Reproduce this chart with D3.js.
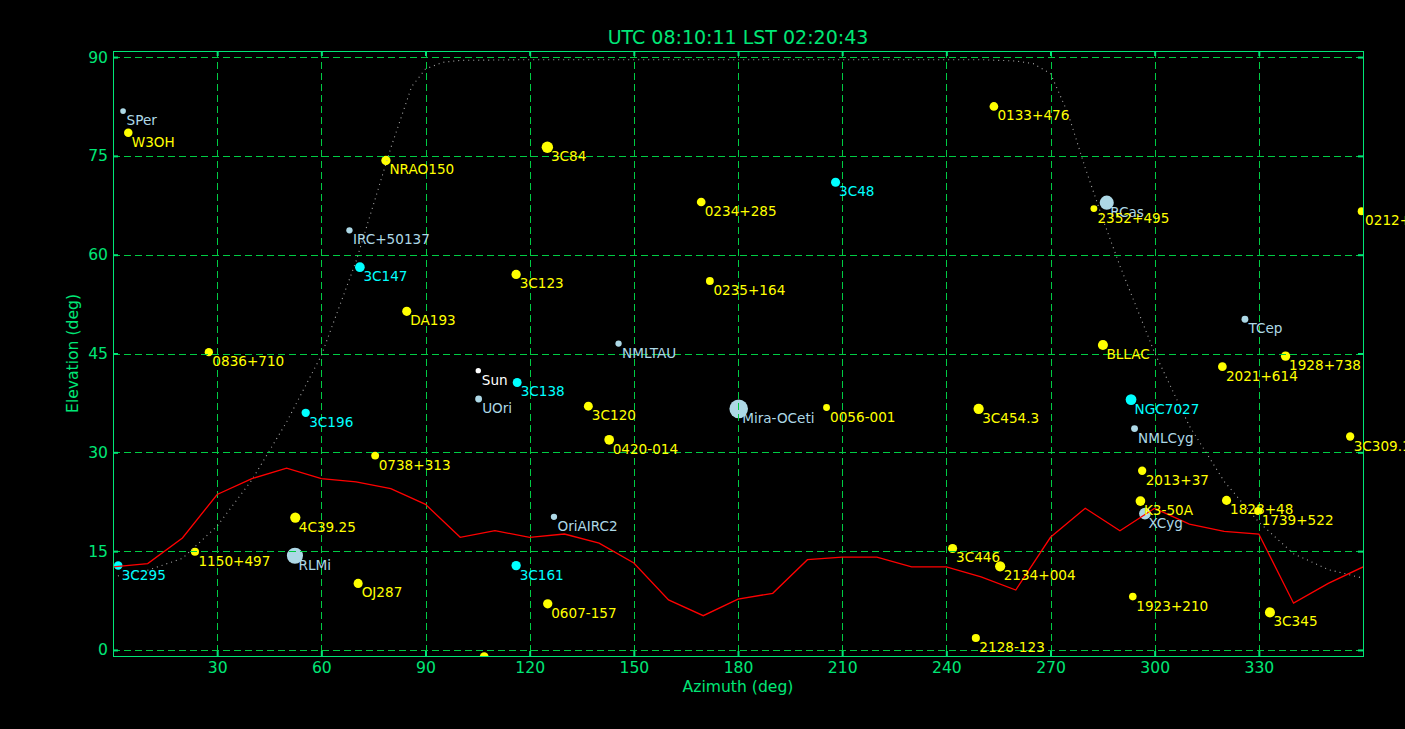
<!DOCTYPE html>
<html><head><meta charset="utf-8">
<script src="https://cdn.jsdelivr.net/npm/d3@7"></script>
<style>
html,body{margin:0;padding:0;background:#000;}
svg{display:block;font-family:"DejaVu Sans",sans-serif;}
</style></head>
<body>
<svg id="chart" width="1405" height="729"></svg>
<script>
// ---------------- data ----------------
const title = "UTC 08:10:11 LST 02:20:43";
const azTicks = [30,60,90,120,150,180,210,240,270,300,330];
const elTicks = [0,15,30,45,60,75,90];

const names = ["SPer","W3OH","NRAO150","IRC+50137","3C147","3C84","0234+285","3C123","0235+164","3C48",
  "0133+476","RCas","2352+495","0212+735","0836+710","DA193","3C196","0738+313","NMLTAU","Sun",
  "3C138","UOri","3C120","0420-014","Mira-OCeti","0056-001","3C454.3","BLLAC","TCep","1928+738",
  "2021+614","NGC7027","NMLCyg","3C309.1","2013+37","K3-50A","XCyg","1828+48","1739+522","3C345",
  "3C295","1150+497","4C39.25","RLMi","OJ287","OriAIRC2","3C161","0607-157","","3C446",
  "2134+004","1923+210","2128-123"];
const azimuth = [2.9,4.4,78.6,68.1,71.1,125.1,169.4,116.1,171.9,208.1,
  253.7,286.2,282.5,359.6,27.6,84.6,55.5,75.5,145.6,105.2,
  116.4,105.3,136.9,142.9,180.2,205.5,249.3,285.1,326.0,337.7,
  319.5,293.2,294.2,356.3,296.4,295.9,297.2,320.7,329.8,333.2,
  1.5,23.6,52.5,52.4,70.6,127.0,116.1,125.2,106.9,241.8,
  255.5,293.7,248.5];
const elevation = [81.8,78.5,74.3,63.7,58.1,76.3,68.0,57.0,56.0,71.0,
  82.5,67.9,67.0,66.6,45.2,51.4,36.0,29.5,46.5,42.4,
  40.6,38.1,37.0,31.9,36.6,36.8,36.6,46.3,50.2,44.6,
  43.0,38.0,33.6,32.4,27.2,22.6,20.7,22.7,21.1,5.7,
  12.8,14.9,20.1,14.3,10.1,20.2,12.8,7.0,-1.0,15.4,
  12.7,8.1,1.8];
const kind = ["star","quasar","quasar","star","cal","quasar","quasar","quasar","quasar","cal",
  "quasar","star","quasar","quasar","quasar","quasar","cal","quasar","star","sun",
  "cal","star","quasar","quasar","star","quasar","quasar","quasar","star","quasar",
  "quasar","cal","star","quasar","quasar","quasar","star","quasar","quasar","quasar",
  "cal","quasar","quasar","star","quasar","star","cal","quasar","quasar","quasar",
  "quasar","quasar","quasar"];
const flux = [9,20,24,11,26,36,21,24,17,23,
  21,55,13,17,19,23,19,17,11,8,
  22,13,22,26,96,13,29,28,13,24,
  21,32,13,19,19,26,38,23,18,28,
  20,18,29,72,23,11,24,24,21,23,
  29,16,18];

// horizon limit profile (red)
const horizAz = [0,10,20,30,40,50,60,70,80,90,100,110,120,130,140,150,160,170,180,190,200,210,220,230,240,250,260,270,280,290,300,310,320,330,340,350,360];
const horizEl = [12.6,13.1,17.0,23.6,26.0,27.6,26.0,25.5,24.5,22.1,17.1,18.1,17.1,17.6,16.2,13.2,7.6,5.2,7.7,8.6,13.7,14.1,14.1,12.6,12.6,11.1,9.1,17.1,21.5,18.1,21.5,19.1,18.0,17.6,7.1,10.1,12.6];

// telescope limit curve (dotted)
const limAz = [0,10,20,30,40,50,60,70,80,86,90,95,100,120,150,180,210,240,250,260,265,270,275,280,285,290,300,310,320,330,340,350,360];
const limEl = [11.1,12.1,13.9,18.8,25.8,34.6,44.7,59.0,76.2,85.5,88.2,89.2,89.5,89.6,89.6,89.6,89.6,89.6,89.6,89.4,89.0,87.5,81.5,73.2,65.5,58.3,45.1,34.0,25.6,19.4,14.6,12.2,10.9];

// ---------------- drawing ----------------
const green = "#00e676", gridGreen = "#00cc44";
const colorOf = {quasar:"#ffff00", cal:"#00ffff", star:"#add8e6", sun:"#ffffff"};
const svg = d3.select("#chart");
svg.append("rect").attr("width",1405).attr("height",729).attr("fill","#000");

const L=113, R=1363, T=51, B=656;
const x = d3.scaleLinear().domain([0,360]).range([L,R]);
const y = d3.scaleLinear().domain([-0.92,90.92]).range([B,T]);
const rScale = d3.scaleSqrt().domain([0,100]).range([0,9.5]);

svg.append("clipPath").attr("id","clip").append("rect")
  .attr("x",L).attr("y",T).attr("width",R-L).attr("height",B-T);

const pts = names.map((n,i)=>({name:n, az:azimuth[i], el:elevation[i], kind:kind[i], flux:flux[i]}));

// points (below grid)
svg.append("g").attr("clip-path","url(#clip)")
  .selectAll("circle").data(pts).join("circle")
  .attr("cx",d=>x(d.az)).attr("cy",d=>y(d.el)).attr("r",d=>rScale(d.flux))
  .attr("fill",d=>colorOf[d.kind]);

// grid
const grid = svg.append("g").attr("shape-rendering","crispEdges");
grid.selectAll("line.v").data(azTicks).join("line")
  .attr("x1",d=>Math.round(x(d))+0.5).attr("x2",d=>Math.round(x(d))+0.5).attr("y1",T).attr("y2",B)
  .attr("stroke",gridGreen).attr("stroke-width",1).attr("stroke-dasharray","7,4");
grid.selectAll("line.h").data(elTicks).join("line")
  .attr("y1",d=>Math.round(y(d))+0.5).attr("y2",d=>Math.round(y(d))+0.5).attr("x1",L).attr("x2",R)
  .attr("stroke",gridGreen).attr("stroke-width",1).attr("stroke-dasharray","7,4");

// lines
const lineGen = d3.line().x(d=>x(d[0])).y(d=>y(d[1]));
const lg = svg.append("g").attr("clip-path","url(#clip)");
lg.append("path").datum(limAz.map((a,i)=>[a,limEl[i]]))
  .attr("d",lineGen).attr("fill","none").attr("stroke","#a8a8a8")
  .attr("stroke-width",1.1).attr("stroke-dasharray","1,4");
lg.append("path").datum(horizAz.map((a,i)=>[a,horizEl[i]]))
  .attr("d",lineGen).attr("fill","none").attr("stroke","#ff0000").attr("stroke-width",1.3);

// axes
function styleAxis(g, showLabels){
  g.select(".domain").remove();
  g.selectAll(".tick line").attr("stroke",green).attr("stroke-width",2);
  g.selectAll(".tick text").attr("fill",green).attr("font-size","15.6px")
    .attr("font-family","DejaVu Sans, sans-serif");
  if(!showLabels) g.selectAll(".tick text").remove();
}
svg.append("g").attr("transform",`translate(0,${B})`)
  .call(d3.axisBottom(x).tickValues(azTicks).tickSize(-5).tickPadding(6).tickFormat(d3.format("d")))
  .call(g=>styleAxis(g,true));
svg.append("g").attr("transform",`translate(0,${T})`)
  .call(d3.axisTop(x).tickValues(azTicks).tickSize(-5).tickFormat(""))
  .call(g=>styleAxis(g,false));
svg.append("g").attr("transform",`translate(${L},0)`)
  .call(d3.axisLeft(y).tickValues(elTicks).tickSize(-5).tickPadding(5).tickFormat(d3.format("d")))
  .call(g=>styleAxis(g,true));
svg.append("g").attr("transform",`translate(${R},0)`)
  .call(d3.axisRight(y).tickValues(elTicks).tickSize(-5).tickFormat(""))
  .call(g=>styleAxis(g,false));

// frame
svg.append("rect").attr("x",L+0.5).attr("y",T+0.5).attr("width",R-L).attr("height",B-T)
  .attr("fill","none").attr("stroke",green).attr("stroke-width",1).attr("shape-rendering","crispEdges");

// labels (only for points inside the axes)
svg.append("g").selectAll("text").data(pts.filter(d=>d.name && d.el>=y.domain()[0] && d.el<=y.domain()[1]))
  .join("text")
  .attr("x",d=>x(d.az)+3.5).attr("y",d=>y(d.el)+14)
  .attr("fill",d=>colorOf[d.kind]).attr("font-size","13.6px")
  .text(d=>d.name);

// titles
svg.append("text").attr("x",(L+R)/2).attr("y",44).attr("text-anchor","middle")
  .attr("fill",green).attr("font-size","19px").text(title);
svg.append("text").attr("x",(L+R)/2).attr("y",692).attr("text-anchor","middle")
  .attr("fill",green).attr("font-size","15.6px").text("Azimuth (deg)");
svg.append("text").attr("transform",`translate(78,${(T+B)/2}) rotate(-90)`).attr("text-anchor","middle")
  .attr("fill",green).attr("font-size","15.6px").text("Elevation (deg)");
</script>
</body></html>
